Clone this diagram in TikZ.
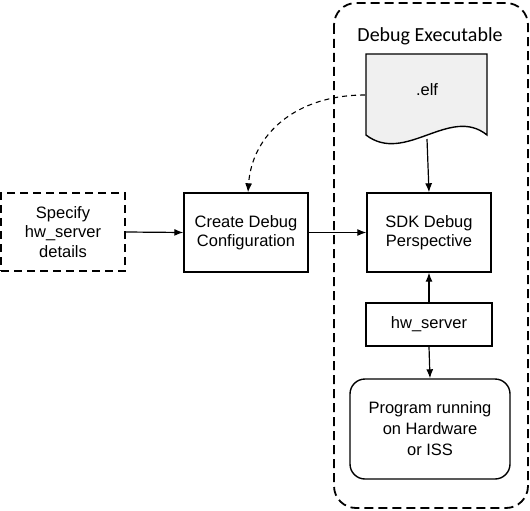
\documentclass[tikz,border=0pt]{standalone}
\usepackage{fontspec}
\setmainfont{Liberation Sans}
\newfontfamily\calfont{Carlito}
\usetikzlibrary{arrows.meta}
\begin{document}
\begin{tikzpicture}[x=1pt,y=-1pt,
  boxtext/.style={align=center,font=\fontsize{16.5}{19.5}\selectfont,inner sep=0pt},
  solidbox/.style={boxtext,draw,line width=1.4pt},
  dashbox/.style={boxtext,draw,line width=1.8pt,dash pattern=on 8pt off 5pt},
  conn/.style={line width=1.2pt,-{Latex[length=9pt,width=7pt]}},
  dconn/.style={line width=1.1pt,dash pattern=on 5pt off 4pt,-{Latex[length=9pt,width=7pt]}}]
\useasboundingbox (0,0) rectangle (530,511);
% outer container
\draw[line width=1.8pt,dash pattern=on 9pt off 5pt,rounded corners=22pt] (334,3) rectangle (528,508);
\node[font=\calfont\fontsize{20}{24}\selectfont,inner sep=0pt] (title) at (430,36) {Debug Executable};
% elf document
\draw[line width=1.4pt,fill=black!6] (366,54) -- (487,54) -- (487,135)
  .. controls (450,105) and (405,165) .. (366,135) -- cycle;
\node[boxtext] (elf) at (427,90) {.elf};
\coordinate (elfbot) at (427,139);
\coordinate (elfleft) at (365,95);
% boxes
\node[dashbox,minimum width=124pt,minimum height=78pt] (spec) at (63,232) {Specify\\hw\_server\\details};
\node[solidbox,minimum width=124pt,minimum height=79pt] (create) at (246,232.5) {Create Debug\\Configuration};
\node[solidbox,minimum width=124pt,minimum height=79pt] (sdk) at (429,232.5) {SDK Debug\\Perspective};
\node[solidbox,minimum width=126pt,minimum height=43pt] (hw) at (429,324.5) {hw\_server};
\node[solidbox,rounded corners=15pt,minimum width=160pt,minimum height=100pt,font=\fontsize{16.5}{21}\selectfont] (prog) at (430,429) {Program running\\on Hardware\\or ISS};
% connectors
\draw[conn] (spec.east) -- (create.west);
\draw[conn] (create.east) -- (sdk.west);
\draw[conn] (elfbot) -- (sdk.north);
\draw[conn] (hw.north) -- (sdk.south);
\draw[conn] (hw.south) -- (prog.north);
\draw[dconn] (elfleft) .. controls (295,95) and (252,135) .. ([xshift=2pt]create.north);
\end{tikzpicture}
\end{document}
